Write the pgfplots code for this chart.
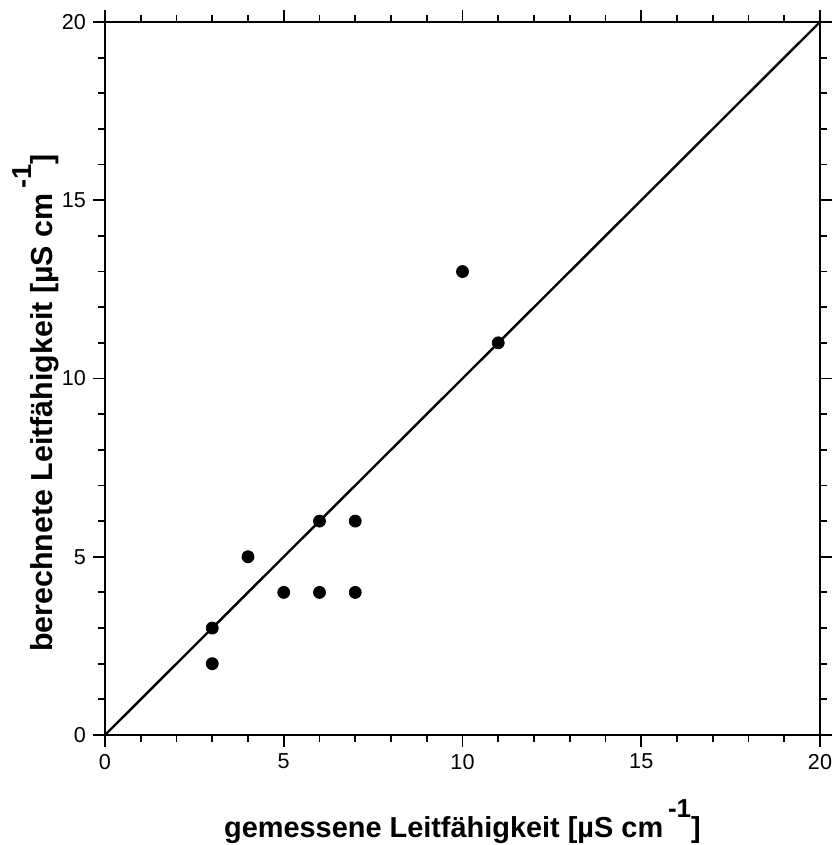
\documentclass[border=0pt]{standalone}
\usepackage{fontspec}
\setmainfont{Liberation Sans}
\usepackage{pgfplots}
\pgfplotsset{compat=1.18}
\newcommand{\unit}{[µS cm\,\raisebox{0.68em}{\fontsize{0.9em}{1em}\selectfont -1}]}
\begin{document}
\begin{tikzpicture}
\begin{axis}[
  scale only axis,
  width=357.5pt, height=356.5pt,
  xmin=0, xmax=20, ymin=0, ymax=20,
  xtick={0,5,10,15,20}, ytick={0,5,10,15,20},
  minor tick num=4,
  tick align=outside,
  tick pos=both,
  xticklabel pos=lower, yticklabel pos=left,
  major tick length=6pt, minor tick length=3.5pt,
  every tick/.style={black, line width=0.9pt},
  axis line style={line width=1pt},
  /pgf/number format/assume math mode=true,
  tick label style={font=\fontsize{10.8}{12}\selectfont},
  xlabel={\textbf{gemessene Leitfähigkeit \unit}},
  ylabel={\textbf{berechnete Leitfähigkeit \unit}},
  xlabel style={font=\fontsize{14.45}{17}\selectfont, at={(axis description cs:0.5,-0.1431)}, anchor=base},
  ylabel style={font=\fontsize{15.2}{17}\selectfont, at={(axis description cs:-0.0741,0.4656)}, anchor=base},
  clip=false,
]
\addplot[black, line width=1.2pt] coordinates {(0,0) (20,20)};
\addplot[only marks, mark=*, mark size=3pt, black] coordinates {
  (3,3) (3,2) (4,5) (5,4) (6,6) (6,4) (7,6) (7,4) (10,13) (11,11)
};
\end{axis}
\pgfresetboundingbox
\useasboundingbox (-52.5pt,-55pt) rectangle (364pt,367.5pt);
\end{tikzpicture}
\end{document}
